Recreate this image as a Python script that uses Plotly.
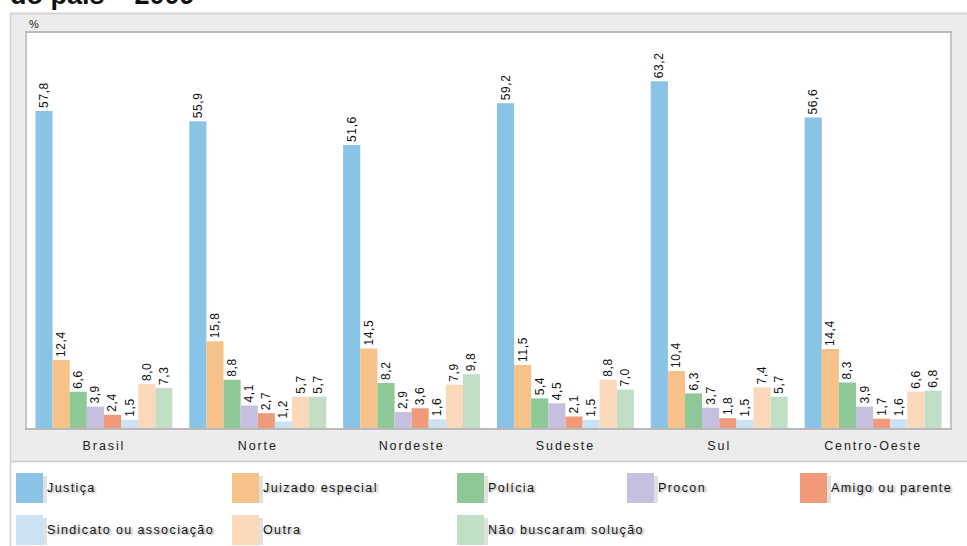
import plotly.graph_objects as go

regions = ["Brasil", "Norte", "Nordeste", "Sudeste", "Sul", "Centro-Oeste"]

justica = [57.8, 55.9, 51.6, 59.2, 63.2, 56.6]
juizado = [12.4, 15.8, 14.5, 11.5, 10.4, 14.4]
policia = [6.6, 8.8, 8.2, 5.4, 6.3, 8.3]
procon = [3.9, 4.1, 2.9, 4.5, 3.7, 3.9]
amigo = [2.4, 2.7, 3.6, 2.1, 1.8, 1.7]
sindicato = [1.5, 1.2, 1.6, 1.5, 1.5, 1.6]
outra = [8.0, 5.7, 7.9, 8.8, 7.4, 6.6]
nao_buscaram = [7.3, 5.7, 9.8, 7.0, 5.7, 6.8]

series_names = [
    "Justiça", "Juizado especial", "Polícia", "Procon", "Amigo ou parente",
    "Sindicato ou associação", "Outra", "Não buscaram solução",
]
series_values = [justica, juizado, policia, procon, amigo, sindicato, outra, nao_buscaram]
colors = ["#89c3e6", "#f7c28a", "#8fc897", "#c6bfdf", "#f19a7a",
          "#cae2f3", "#fad8b9", "#c1dfc4"]

W, H = 967, 546
L, R, T, B = 27, 17, 33, 118
PW, PH = W - L - R, H - T - B


def px(x):
    return (x - L) / PW


def py(y):
    return (H - B - y) / PH


def fmt(v):
    return f"{v:.1f}".replace(".", ",")


def spaced(s, sp=1.3):
    return f"<span style='letter-spacing:{sp}px'>{s}</span>"


SANS = "Liberation Sans, Arial"

fig = go.Figure()
for name, vals, col in zip(series_names, series_values, colors):
    fig.add_trace(go.Bar(
        x=regions, y=vals, name=name, marker_color=col, marker_line_width=0,
        text=[spaced(fmt(v), 0.6) for v in vals], textposition="outside",
        textangle=-90, constraintext="none", cliponaxis=False,
        textfont=dict(family=SANS, size=12, color="#111"),
    ))

shapes = [
    # gray panel behind chart
    dict(type="rect", xref="paper", yref="paper", layer="below",
         x0=px(10), x1=px(970), y0=py(461), y1=py(13),
         fillcolor="#ebeceb", line=dict(width=0)),
    # top shadow of panel
    dict(type="line", xref="paper", yref="paper", layer="below",
         x0=px(10), x1=px(970), y0=py(13.5), y1=py(13.5),
         line=dict(color="#d4d5d4", width=2)),
    # left border of panel
    dict(type="line", xref="paper", yref="paper", layer="below",
         x0=px(10.5), x1=px(10.5), y0=py(546), y1=py(13),
         line=dict(color="#cfd0cf", width=1.5)),
    # separator to legend
    dict(type="line", xref="paper", yref="paper", layer="below",
         x0=px(10), x1=px(970), y0=py(461.5), y1=py(461.5),
         line=dict(color="#c9cac9", width=1.5)),
    # white plot area
    dict(type="rect", xref="paper", yref="paper", layer="below",
         x0=0, x1=1, y0=0, y1=1, fillcolor="white", line=dict(width=0)),
]

annotations = [
    # title line, cut by the top of the page as in the source
    dict(text="<b>do país – 2009</b>", xref="paper", yref="paper",
         x=px(8), y=py(12), xanchor="left", yanchor="bottom", showarrow=False,
         font=dict(family=SANS, size=27, color="#111")),
    dict(text="%", xref="paper", yref="paper", x=px(34), y=py(24),
         xanchor="center", yanchor="middle", showarrow=False,
         font=dict(family=SANS, size=11, color="#222")),
]

# legend drawn as swatches + labels
leg_cols = [16, 232, 457, 627, 800]
leg_rows = [473, 515]
for i, (name, col) in enumerate(zip(series_names, colors)):
    x0 = leg_cols[i % 5]
    y0 = leg_rows[i // 5]
    shapes.append(dict(type="rect", xref="paper", yref="paper",
                       x0=px(x0 + 27), x1=px(x0 + 31), y0=py(y0 + 30), y1=py(y0 + 3),
                       fillcolor="rgba(0,0,0,0.12)", line=dict(width=0)))
    shapes.append(dict(type="rect", xref="paper", yref="paper",
                       x0=px(x0), x1=px(x0 + 27), y0=py(y0 + 30), y1=py(y0),
                       fillcolor=col, line=dict(width=0)))
    annotations.append(dict(
        text=spaced(name, 1.4), xref="paper", yref="paper",
        x=px(x0 + 29), y=py(y0 + 15), xanchor="left", yanchor="middle",
        showarrow=False,
        font=dict(family=SANS, size=12.5, color="#111",
                  shadow="2px 1px 2px rgba(0,0,0,0.35)"),
    ))

fig.update_layout(
    width=W, height=H,
    margin=dict(l=L, r=R, t=T, b=B, pad=0),
    paper_bgcolor="white", plot_bgcolor="rgba(0,0,0,0)",
    barmode="group", bargap=0.11, bargroupgap=0,
    showlegend=False,
    shapes=shapes, annotations=annotations,
    xaxis=dict(
        tickmode="array", tickvals=regions, ticktext=[spaced(r, 1.9) for r in regions],
        ticks="", ticklabelstandoff=5,
        tickfont=dict(family=SANS, size=12.5, color="#222"),
        showline=True, linecolor="#b9bab9", linewidth=2, mirror=True,
        showgrid=False,
    ),
    yaxis=dict(
        range=[0, 72], showticklabels=False, ticks="", showgrid=False,
        zeroline=False, showline=True, linecolor="#c4c5c4", linewidth=1.5,
        mirror=True,
    ),
)

# the page is photographed from its top-left corner: drop the body margin
fig.write_html("out.html", config={"displayModeBar": False},
               post_script="document.body.style.margin='0';")
